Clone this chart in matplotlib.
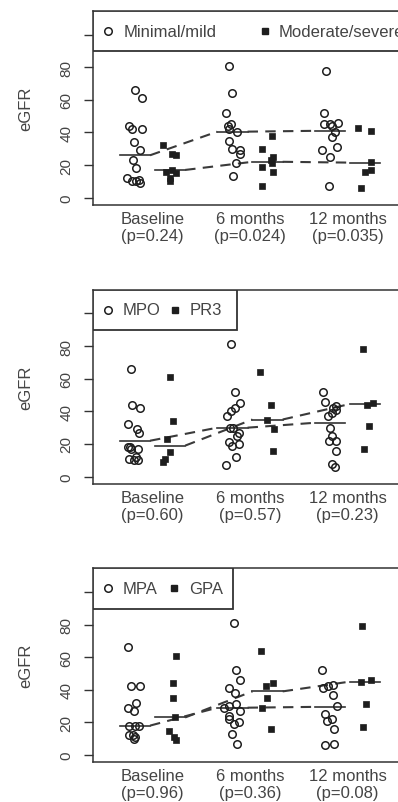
import numpy as np
import matplotlib
matplotlib.use('Agg')
import matplotlib.pyplot as plt
from matplotlib.patches import Rectangle

plt.rcParams['font.family'] = ['Liberation Sans', 'DejaVu Sans']

timepoints = ['Baseline', '6 months', '12 months']
yticks = [0, 20, 40, 60, 80, 100]
ytick_labels = ['0', '20', '40', '60', '80', '']

# ---- Panel 1: histology severity ----
p1_names = ['Minimal/mild', 'Moderate/severe']
p1_pvals = ['0.24', '0.024', '0.035']
minimal_mild = [[66, 61, 44, 42, 42, 34, 29, 23, 18, 12, 11, 10, 10, 9],
                [81, 64, 52, 45, 44, 42, 40, 35, 30, 29, 27, 21, 13],
                [78, 52, 46, 45, 45, 44, 40, 37, 31, 29, 25, 7]]
moderate_severe = [[32, 27, 26, 17, 16, 15, 12, 10],
                   [38, 30, 25, 23, 21, 19, 16, 7],
                   [43, 41, 22, 17, 16, 6]]
minimal_mild_median = [26, 40.5, 41]
moderate_severe_median = [17, 22, 21.5]

# ---- Panel 2: ANCA type ----
p2_names = ['MPO', 'PR3']
p2_pvals = ['0.60', '0.57', '0.23']
mpo = [[66, 44, 42, 32, 29, 27, 18, 18, 17, 17, 12, 11, 10, 10],
       [81, 52, 45, 42, 40, 37, 30, 30, 27, 25, 21, 20, 19, 12, 7],
       [52, 46, 43, 42, 41, 39, 37, 30, 25, 22, 22, 16, 8, 6]]
pr3 = [[61, 34, 23, 15, 11, 9],
       [64, 44, 35, 29, 16],
       [78, 45, 44, 31, 17]]
mpo_median = [22, 30, 33]
pr3_median = [19, 35, 44.5]

# ---- Panel 3: clinical diagnosis ----
p3_names = ['MPA', 'GPA']
p3_pvals = ['0.96', '0.36', '0.08']
mpa = [[66, 42, 42, 32, 29, 27, 18, 18, 18, 12, 12, 11, 10],
       [81, 52, 46, 41, 38, 31, 30, 29, 27, 24, 22, 20, 19, 13, 7],
       [52, 43, 42, 41, 37, 30, 25, 22, 21, 16, 7, 6]]
gpa = [[61, 44, 35, 23, 15, 11, 9],
       [64, 44, 42, 35, 29, 16],
       [79, 46, 45, 31, 17]]
mpa_median = [18, 29, 29.5]
gpa_median = [23, 39, 45]

INK = '#1e1e1e'
TXT = '#444444'

W, H = 398, 803
fig = plt.figure(figsize=(W / 100, H / 100), dpi=100)


def make_axes(top_px, bottom_px, left_px=93, right_px=407):
    return fig.add_axes([left_px / W, 1 - bottom_px / H,
                         (right_px - left_px) / W, (bottom_px - top_px) / H])


def draw_panel(ax, groups, medians, names, pvals, legend_w, legend_pos, seed):
    rng = np.random.default_rng(seed)
    offs = [-0.18, 0.18]
    for gi, (vals_by_t, med) in enumerate(zip(groups, medians)):
        off = offs[gi]
        for t, vals in enumerate(vals_by_t):
            jit = rng.uniform(-0.085, 0.085, len(vals))
            if gi == 0:
                ax.plot(t + off + jit, vals, 'o', ms=5.4, mfc='none', mec=INK,
                        mew=1.1, zorder=3)
            else:
                ax.plot(t + off + jit, vals, 's', ms=4.0, mfc=INK, mec=INK,
                        mew=0.5, zorder=3)
        hw = 0.155
        for t, m in enumerate(med):
            ax.plot([t + off - hw, t + off + hw], [m, m], color='#333333',
                    lw=1.2, zorder=2)
        for t in range(len(med) - 1):
            ax.plot([t + off + hw, t + 1 + off - hw], [med[t], med[t + 1]],
                    color='#3a3a3a', lw=1.5, ls=(0, (5, 3.5)), zorder=2)

    ax.set_xlim(-0.61, 2.61)
    ax.set_ylim(-4.5, 114.5)
    ax.set_yticks(yticks)
    ax.set_yticklabels(ytick_labels, rotation=90, va='center', ha='center')
    ax.tick_params(axis='y', length=6.2, width=1.0, color='#333333',
                   labelsize=11, labelcolor=TXT, pad=13)
    ax.set_xticks([0, 1, 2])
    ax.set_xticklabels([f'{tp}\n(p={p})' for tp, p in zip(timepoints, pvals)],
                       linespacing=1.22)
    ax.tick_params(axis='x', length=0, labelsize=12, labelcolor=TXT, pad=4)
    for s in ax.spines.values():
        s.set_linewidth(1.1)
        s.set_color('#333333')
    ax.set_ylabel('eGFR', fontsize=12, color=TXT)
    ax.yaxis.set_label_coords(-0.19, 0.5)

    # legend box
    ybot = 0.792
    ax.add_patch(Rectangle((0, ybot), legend_w, 1 - ybot, transform=ax.transAxes,
                           facecolor='white', edgecolor='#333333', lw=1.3,
                           zorder=5, clip_on=True))
    yc = (1 + ybot) / 2
    cx, tx, sx, t2x = legend_pos
    ax.plot([cx], [yc], 'o', ms=5.4, mfc='none', mec=INK, mew=1.1,
            transform=ax.transAxes, zorder=6, clip_on=False)
    ax.text(tx, yc, names[0], transform=ax.transAxes, fontsize=12, color=TXT,
            va='center', ha='left', zorder=6)
    ax.plot([sx], [yc], 's', ms=4.5, mfc=INK, mec=INK,
            transform=ax.transAxes, zorder=6, clip_on=False)
    ax.text(t2x, yc, names[1], transform=ax.transAxes, fontsize=12, color=TXT,
            va='center', ha='left', zorder=6, clip_on=True)


ax1 = make_axes(12, 206)
draw_panel(ax1, [minimal_mild, moderate_severe],
           [minimal_mild_median, moderate_severe_median],
           p1_names, p1_pvals, 1.2, (0.0478, 0.0987, 0.548, 0.592), 1)

ax2 = make_axes(290.7, 485)
draw_panel(ax2, [mpo, pr3], [mpo_median, pr3_median],
           p2_names, p2_pvals, 0.4586, (0.0478, 0.0955, 0.261, 0.309), 2)

ax3 = make_axes(569.3, 763.3)
draw_panel(ax3, [mpa, gpa], [mpa_median, gpa_median],
           p3_names, p3_pvals, 0.4459, (0.0478, 0.0955, 0.258, 0.306), 3)

fig.savefig('out.png', dpi=100)
